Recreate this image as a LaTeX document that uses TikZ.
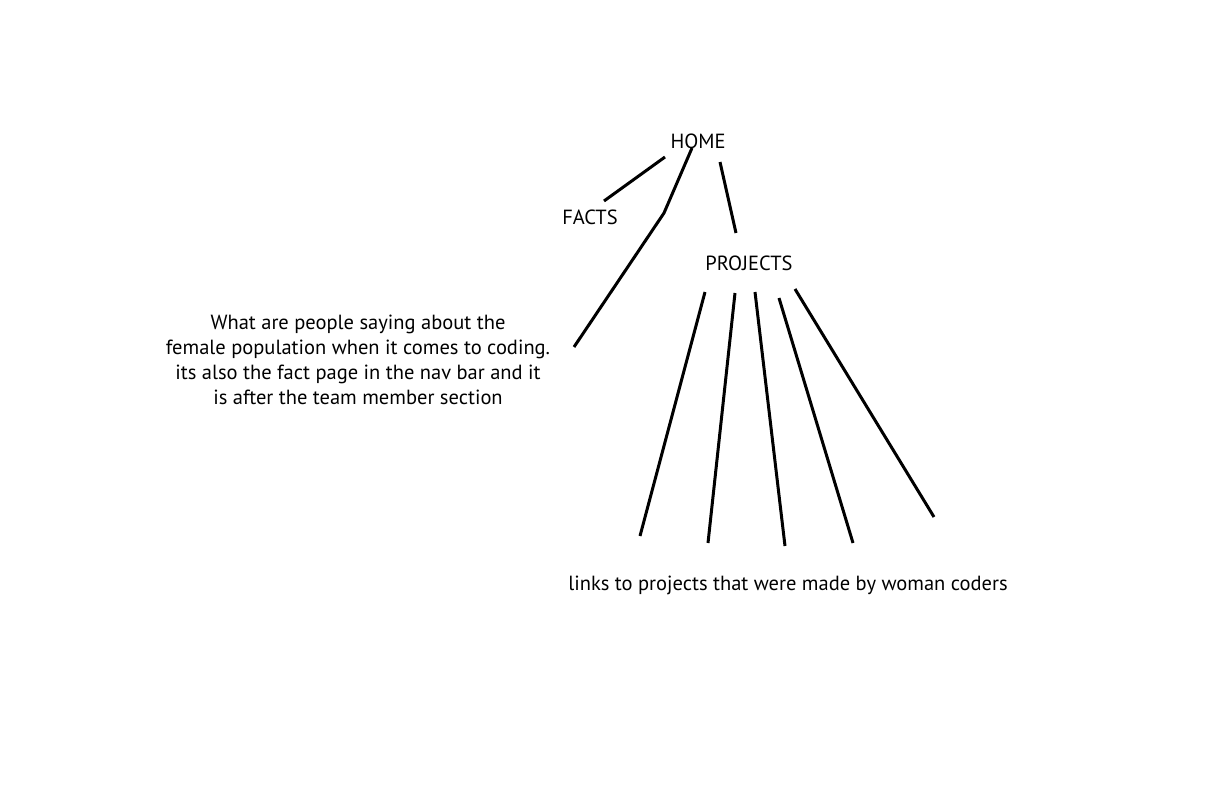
\documentclass[tikz,border=0pt]{standalone}
\usepackage{fontspec}
\setmainfont{PT Sans}
\begin{document}
\begin{tikzpicture}[x=1pt,y=-1pt,
  lbl/.style={inner sep=0pt,font=\fontsize{20.5}{25}\selectfont,align=center},
  link/.style={line width=3pt,line cap=butt}]
\useasboundingbox (0,0) rectangle (1224,792);
\fill[white] (0,0) rectangle (1224,792);
\node[lbl] (home) at (698,141) {HOME};
\node[lbl] (facts) at (590,217) {FACTS};
\node[lbl] (projects) at (749,263) {PROJECTS};
\node[lbl] (desc) at (358,360) {What are people saying about the\\female population when it comes to coding.\\its also the fact page in the nav bar and it\\is after the team member section};
\node[lbl] (links) at (788,585) {links to projects that were made by woman coders};
% connector end points
\coordinate (h1) at (665,157);
\coordinate (f1) at (604,201);
\coordinate (h2) at (692,148);
\coordinate (b2) at (664,213);
\coordinate (d2) at (574,347);
\coordinate (h3) at (720,162);
\coordinate (p3) at (736,233);
\coordinate (pa) at (705,292); \coordinate (la) at (640,536);
\coordinate (pb) at (735,293); \coordinate (lb) at (708,543);
\coordinate (pc) at (755,292); \coordinate (lc) at (785,546);
\coordinate (pd) at (779,298); \coordinate (ld) at (853,543);
\coordinate (pe) at (795,289); \coordinate (le) at (934,517);
\draw[link] (h1) -- (f1);
\draw[link] (h2) -- (b2) -- (d2);
\draw[link] (h3) -- (p3);
\draw[link] (pa) -- (la);
\draw[link] (pb) -- (lb);
\draw[link] (pc) -- (lc);
\draw[link] (pd) -- (ld);
\draw[link] (pe) -- (le);
\end{tikzpicture}
\end{document}
